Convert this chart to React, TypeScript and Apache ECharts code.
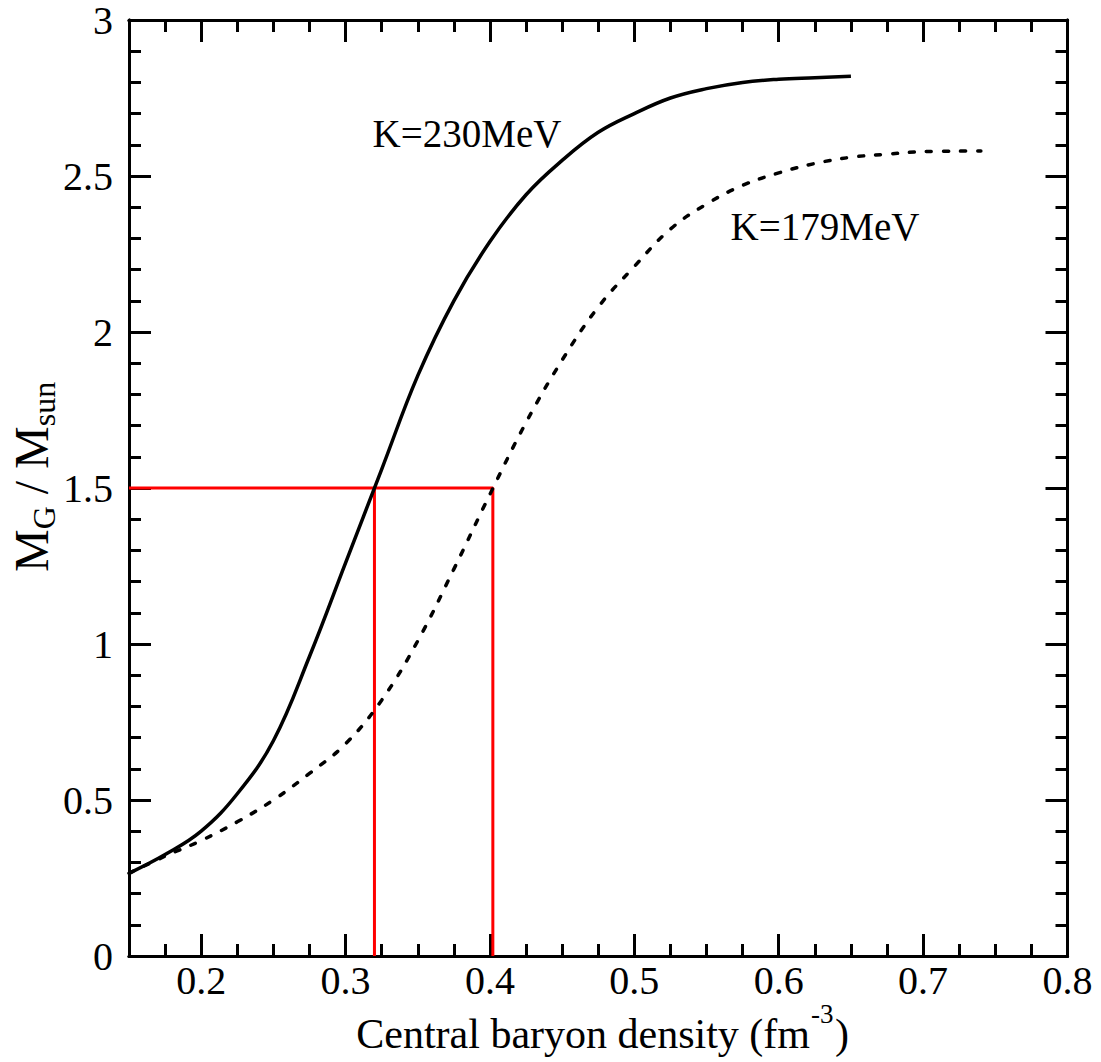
import React, { useEffect, useRef } from "react";
import * as echarts from "echarts";

// K = 230 MeV (solid)
const k230Density = [0.15, 0.175, 0.2, 0.225, 0.25, 0.275, 0.3, 0.325, 0.35, 0.375, 0.4, 0.425, 0.45, 0.475, 0.5, 0.525, 0.55, 0.575, 0.6, 0.625, 0.65];
const k230Mass = [0.265, 0.325, 0.4, 0.52, 0.69, 0.96, 1.26, 1.56, 1.86, 2.1, 2.29, 2.44, 2.55, 2.64, 2.7, 2.75, 2.78, 2.8, 2.81, 2.815, 2.82];

// K = 179 MeV (dashed)
const k179Density = [0.15, 0.175, 0.2, 0.225, 0.25, 0.275, 0.3, 0.325, 0.35, 0.375, 0.4, 0.425, 0.45, 0.475, 0.5, 0.525, 0.55, 0.575, 0.6, 0.625, 0.65, 0.675, 0.7, 0.74];
const k179Mass = [0.265, 0.32, 0.37, 0.43, 0.5, 0.585, 0.68, 0.82, 1.01, 1.24, 1.48, 1.71, 1.91, 2.08, 2.21, 2.33, 2.41, 2.47, 2.51, 2.54, 2.56, 2.57, 2.578, 2.58];

// red guide lines
const markerDensities = [0.32, 0.402];
const markerMass = 1.5;

// axes
const xMin = 0.15;
const xMax = 0.8;
const yMin = 0;
const yMax = 3;
const xTickLabels = [0.2, 0.3, 0.4, 0.5, 0.6, 0.7, 0.8];
const yTickLabels = [0, 0.5, 1, 1.5, 2, 2.5, 3];
const xMinorTicks = [0.175, 0.225, 0.25, 0.275, 0.325, 0.35, 0.375, 0.425, 0.45, 0.475, 0.525, 0.55, 0.575, 0.625, 0.65, 0.675, 0.725, 0.75, 0.775];
const yMinorTicks = [0.1, 0.2, 0.3, 0.4, 0.6, 0.7, 0.8, 0.9, 1.1, 1.2, 1.3, 1.4, 1.6, 1.7, 1.8, 1.9, 2.1, 2.2, 2.3, 2.4, 2.6, 2.7, 2.8, 2.9];

const FONT = '"Liberation Serif", "Times New Roman", serif';
const BLACK = "#000000";

function zip(xs: number[], ys: number[]) {
  return xs.map((x, i) => [x, ys[i]]);
}

function makeAxis(
  kind: "x" | "y",
  position: string,
  ticks: number[],
  length: number,
  labels: number[] | null
) {
  return {
    type: "value",
    gridIndex: 0,
    position,
    min: kind === "x" ? xMin : yMin,
    max: kind === "x" ? xMax : yMax,
    axisLine: { show: true, onZero: false, lineStyle: { color: BLACK, width: 3 } },
    axisTick: {
      show: true,
      inside: true,
      length,
      customValues: ticks,
      lineStyle: { color: BLACK, width: 3 },
    },
    axisLabel: labels
      ? {
          show: true,
          customValues: labels,
          margin: kind === "x" ? 8 : 16,
          fontSize: 40,
          lineHeight: 32,
          fontFamily: FONT,
          color: BLACK,
        }
      : { show: false },
    splitLine: { show: false },
    minorTick: { show: false },
  };
}

function txt(
  text: string,
  x: number,
  y: number,
  size: number,
  align: string,
  vAlign: string = "middle"
) {
  return {
    type: "text",
    x,
    y,
    silent: true,
    style: {
      text,
      x: 0,
      y: 0,
      font: `${size}px ${FONT}`,
      fontSize: size,
      fontFamily: FONT,
      fill: BLACK,
      textFill: BLACK,
      align,
      textAlign: align,
      verticalAlign: vAlign,
      textVerticalAlign: vAlign,
    },
  };
}

export default function App() {
  const ref = useRef<HTMLDivElement>(null);

  useEffect(() => {
    document.body.style.margin = "0";
    if (!ref.current) return;
    const chart = echarts.init(ref.current, undefined, { renderer: "svg" });

    const redStyle = { color: "#ff0000", width: 3 };
    const option: any = {
      animation: false,
      backgroundColor: "#ffffff",
      textStyle: { fontFamily: FONT, color: BLACK },
      grid: { left: 129, top: 20, width: 938.5, height: 936, containLabel: false },
      xAxis: [
        makeAxis("x", "bottom", xTickLabels, 22, xTickLabels),
        makeAxis("x", "bottom", xMinorTicks, 12, null),
        makeAxis("x", "top", xTickLabels, 22, null),
        makeAxis("x", "top", xMinorTicks, 12, null),
      ],
      yAxis: [
        makeAxis("y", "left", yTickLabels, 22, yTickLabels),
        makeAxis("y", "left", yMinorTicks, 12, null),
        makeAxis("y", "right", yTickLabels, 22, null),
        makeAxis("y", "right", yMinorTicks, 12, null),
      ],
      series: [
        {
          type: "line",
          xAxisIndex: 0,
          yAxisIndex: 0,
          symbol: "none",
          z: 2,
          lineStyle: redStyle,
          data: [
            [xMin, markerMass],
            [markerDensities[1], markerMass],
            [markerDensities[1], yMin],
          ],
        },
        {
          type: "line",
          xAxisIndex: 0,
          yAxisIndex: 0,
          symbol: "none",
          z: 2,
          lineStyle: redStyle,
          data: [
            [markerDensities[0], markerMass],
            [markerDensities[0], yMin],
          ],
        },
        {
          type: "line",
          name: "K=230MeV",
          xAxisIndex: 0,
          yAxisIndex: 0,
          symbol: "none",
          smooth: 0.4,
          z: 3,
          lineStyle: { color: BLACK, width: 3.5 },
          data: zip(k230Density, k230Mass),
        },
        {
          type: "line",
          name: "K=179MeV",
          xAxisIndex: 0,
          yAxisIndex: 0,
          symbol: "none",
          smooth: 0.4,
          z: 3,
          lineStyle: { color: BLACK, width: 3.5, type: [5, 12], cap: "round" },
          data: zip(k179Density, k179Mass),
        },
      ],
      graphic: [
        txt("K=230MeV", 467, 133, 39, "center"),
        txt("K=179MeV", 825, 226, 39, "center"),
        // x axis title
        txt("Central baryon density (fm", 810, 1034, 42, "right"),
        txt("-3", 811, 1014, 27, "left"),
        txt(")", 835, 1034, 42, "left"),
        // y axis title (rotated)
        {
          type: "group",
          x: 31,
          y: 572,
          rotation: Math.PI / 2,
          children: [
            txt("M", 0, 0, 48, "left"),
            txt("G", 42.7, 13, 32, "left"),
            txt("/", 77.8, 0, 48, "left"),
            txt("M", 103.1, 0, 48, "left"),
            txt("sun", 145.8, 13, 32, "left"),
          ],
        },
      ],
    };

    chart.setOption(option);
    return () => chart.dispose();
  }, []);

  return <div ref={ref} style={{ width: 1101, height: 1062 }} />;
}
